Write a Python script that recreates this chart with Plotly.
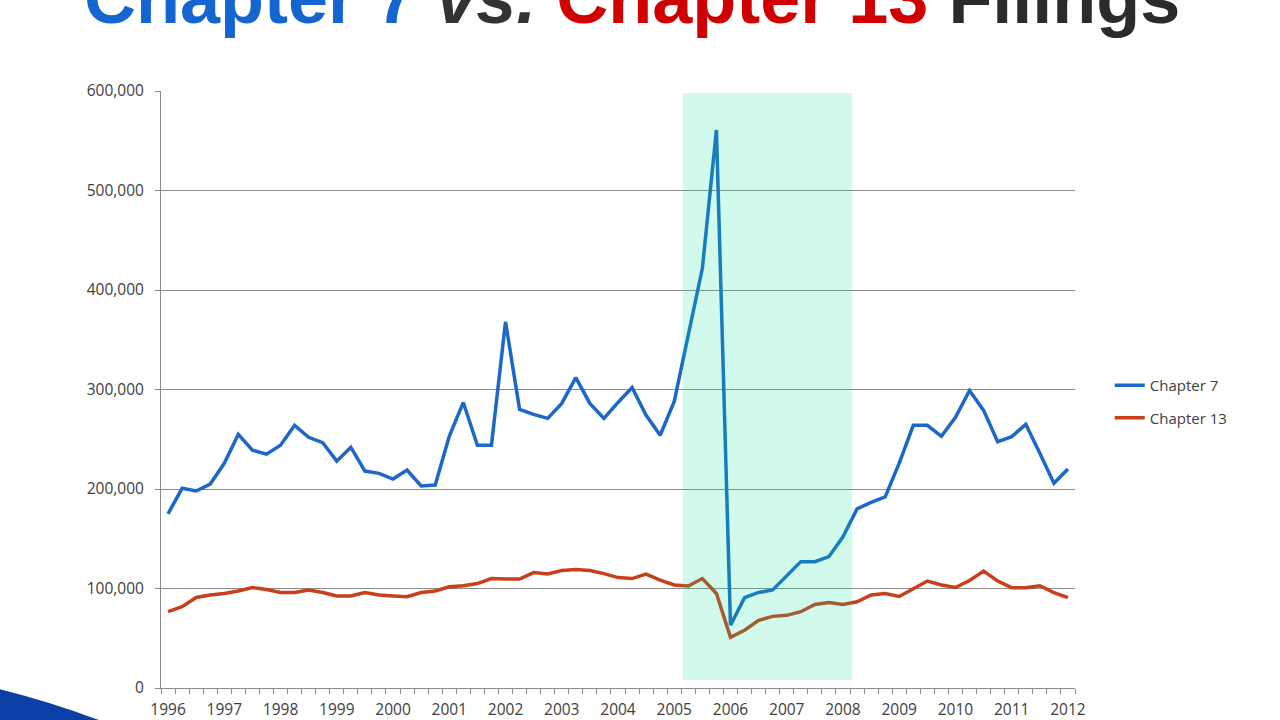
import plotly.graph_objects as go

# Quarterly filings, 1996 Q1 .. 2012 Q1
years = list(range(1996, 2013))
chapter7 = [175000, 200700, 198000, 205000, 225800, 255000, 239000, 235000,
            244000, 264000, 252000, 246500, 228000, 242000, 218000, 215700,
            210000, 219000, 203000, 204000, 253000, 287000, 244000, 244000,
            368000, 280000, 275000, 271000, 286000, 312000, 286000, 271000,
            287000, 302000, 274000, 254000, 288000, 355000, 421800, 560800,
            63000, 90800, 96000, 98500, 113000, 127000, 127000, 132000,
            152000, 180000, 186600, 192000, 226000, 264000, 264000, 253000,
            272000, 299000, 279000, 247500, 252600, 265000, 236000, 205700,
            220000]
chapter13 = [76700, 81700, 91000, 93500, 95000, 97500, 101000, 99000,
             96000, 96000, 98500, 96000, 92500, 92500, 96000, 93500,
             92500, 91800, 96000, 97500, 101800, 102800, 105000, 110000,
             109500, 109500, 116000, 114500, 118000, 119000, 118000, 115000,
             111000, 110000, 114500, 108500, 103500, 102500, 110000, 95000,
             51000, 58000, 68000, 72000, 73000, 76700, 84000, 86000,
             84000, 86700, 93500, 95000, 92000, 100000, 107500, 103500,
             101000, 108000, 117500, 107500, 100800, 100800, 102800, 95800,
             90800]
series_names = ["Chapter 7", "Chapter 13"]
series_colors = ["#1c67c8", "#c8401a"]
shade_x = [36.6, 48.65]
shade_y = [8000, 598000]

idx = list(range(len(chapter7)))
year_idx = [4 * (y - 1996) for y in years]

fig = go.Figure()
for name, vals, col in zip(series_names, [chapter7, chapter13], series_colors):
    fig.add_trace(go.Scatter(x=idx, y=vals, mode="lines", name=name,
                             legendgroup=name,
                             line=dict(color=col, width=3.5)))

# shaded band, drawn above the lines with transparency
fig.add_shape(type="rect", xref="x", yref="y",
              x0=shade_x[0], x1=shade_x[1], y0=shade_y[0], y1=shade_y[1],
              fillcolor="rgb(0,230,150)", opacity=0.18, line_width=0,
              layer="above")

L, R, T, B = 161, 205, 91, 32
PW, PH = 1280 - L - R, 720 - T - B


def px(xp):
    return (xp - L) / PW


def py(yp):
    return (720 - B - yp) / PH


# decorative swoosh in the bottom-left corner
path = (f"M {px(-5)},{py(688)} Q {px(52)},{py(702)} {px(104)},{py(722)} "
        f"L {px(-5)},{py(722)} Z")
fig.add_shape(type="path", xref="paper", yref="paper", path=path,
              fillcolor="#0b3fa6", line_width=0, layer="above")

title = ("<b><span style='color:#1565d0'>Chapter 7</span> "
         "<i><span style='color:#333333'>vs.</span></i> "
         "<span style='color:#d00000'>Chapter 13</span> "
         "<span style='color:#2b2b2b'>Filings</span></b>")
fig.add_annotation(text=title, xref="paper", yref="paper",
                   x=px(632), y=py(-2), xanchor="center", yanchor="middle",
                   showarrow=False,
                   font=dict(family="Liberation Sans", size=72))

fig.update_layout(
    width=1280, height=720,
    margin=dict(l=L, r=R, t=T, b=B, autoexpand=False),
    paper_bgcolor="white", plot_bgcolor="white",
    font=dict(family="Open Sans", size=15, color="#404040"),
    legend=dict(x=1.038, xanchor="left", y=0.48, yanchor="middle",
                tracegroupgap=10, font=dict(size=15, color="#404040")),
    showlegend=True,
)
fig.update_xaxes(range=[-0.5, 64.5], tickmode="array", tickvals=year_idx,
                 ticktext=[str(y) for y in years], ticks="", ticklen=0,
                 showgrid=False, zeroline=False, showline=True,
                 linecolor="#8a8a8a", linewidth=1, ticklabelstandoff=7,
                 tickfont=dict(size=15.5),
                 minor=dict(tickmode="array",
                            tickvals=[i - 0.5 for i in range(66)],
                            ticks="outside", ticklen=5, tickcolor="#8a8a8a",
                            showgrid=False))
fig.update_yaxes(range=[0, 600000], tickmode="linear", tick0=0, dtick=100000,
                 tickformat=",d", ticks="outside", ticklen=5,
                 tickcolor="#8a8a8a", showgrid=True, gridcolor="#8c8c8c",
                 gridwidth=1, zeroline=False, showline=True,
                 linecolor="#8a8a8a", linewidth=1, ticklabelstandoff=8,
                 tickfont=dict(size=15.5))

fig.write_html("out.html", config={"displayModeBar": False},
               post_script="document.body.style.margin='0';"
                           "document.body.style.overflow='hidden';")
